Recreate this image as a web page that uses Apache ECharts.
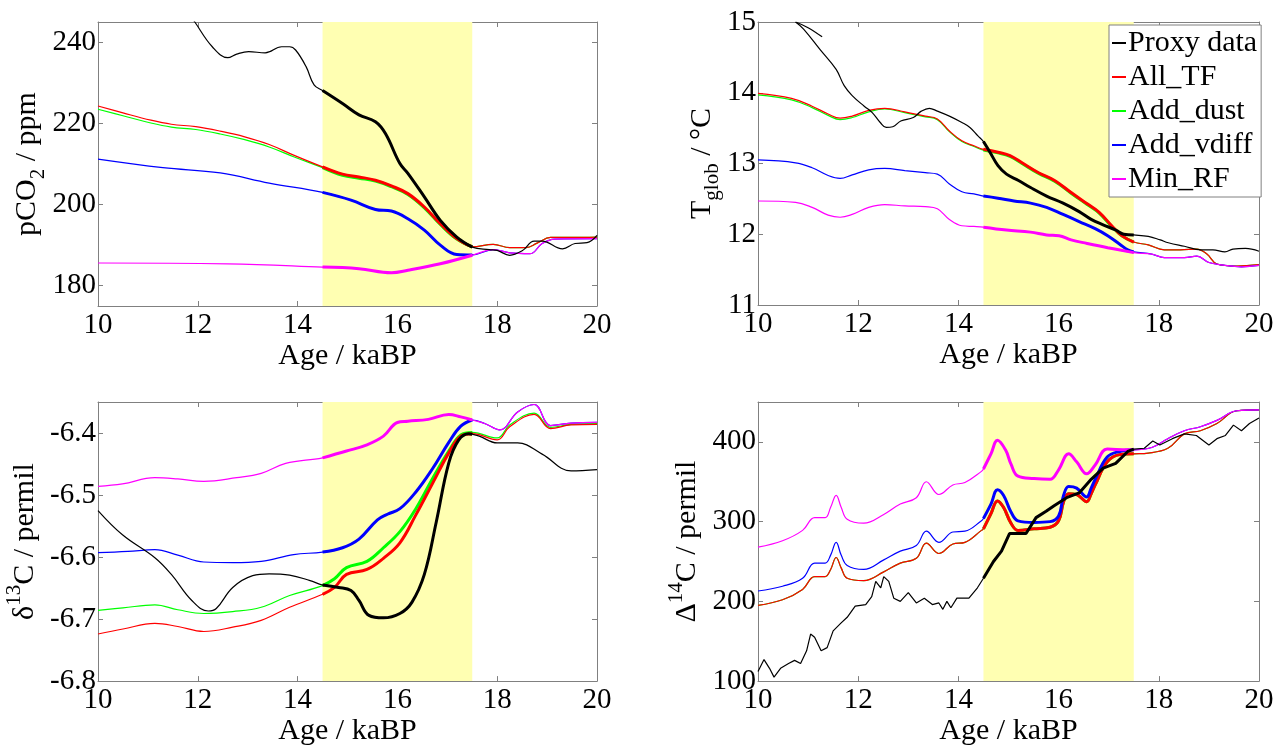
<!DOCTYPE html>
<html>
<head>
<meta charset="utf-8">
<script src="https://cdn.jsdelivr.net/npm/echarts@6/dist/echarts.min.js"></script>
<style>
  html, body { margin: 0; padding: 0; background: #fff; }
  #chart { width: 1277px; height: 747px; }
</style>
</head>
<body>
<div id="chart"></div>
<script>
// ---- data (age in kaBP, value) ----
const seriesNames = ['Proxy data', 'All_TF', 'Add_dust', 'Add_vdiff', 'Min_RF'];
const band = [14.5, 17.5];

// pCO2 / ppm
const co2Proxy = [[11.6,251],[11.94,245],[12.29,238.9],[12.6,236.2],[12.78,237.1],[13.02,237.7],[13.35,237.4],[13.68,238.9],[13.84,238.9],[13.96,238.1],[14.17,234],[14.33,229.5],[14.5,228.1],[14.9,224.9],[15.23,222.1],[15.56,220.4],[15.76,217.5],[16.05,210.1],[16.21,207.7],[16.54,201.9],[16.86,196.1],[17.19,192],[17.5,189.5],[17.84,188.9],[18.0,188.7],[18.25,187.5],[18.5,188.6],[18.74,191],[18.9,191],[19.31,189.1],[19.56,190.4],[19.8,190.6],[20,192.4]];
const co2AllTF = [[10,224.3],[10.5,222.6],[11.06,220.8],[11.47,219.8],[11.96,219.2],[12.45,218.1],[12.94,216.7],[13.43,214.8],[13.92,212.2],[14.5,209.3],[14.9,207.5],[15.23,206.8],[15.56,206],[15.88,204.6],[16.21,202.7],[16.54,199.4],[16.86,195.3],[17.19,191.6],[17.5,189.6],[17.92,190.2],[18.25,189.4],[18.58,189.4],[18.8,190.5],[19.07,191.9],[19.48,191.9],[20,192]];
const co2AddDust = [[10,223.5],[10.5,221.9],[11.06,220.1],[11.47,219.1],[11.96,218.5],[12.45,217.4],[12.94,216.0],[13.43,214.2],[13.92,211.8],[14.5,209.1],[14.9,207.2],[15.23,206.5],[15.56,205.8],[15.88,204.4],[16.21,202.5],[16.54,199.2],[16.86,195.1],[17.19,191.5],[17.5,189.6],[17.92,190.2],[18.25,189.4],[18.58,189.4],[18.8,190.5],[19.07,191.9],[19.48,191.9],[20,192]];
const co2AddVdiff = [[10,211.2],[11.3,209.1],[12.45,207.8],[13.43,205.3],[14.5,203],[15.07,201.1],[15.56,198.8],[15.88,198.4],[16.21,196.5],[16.54,193.7],[16.86,190],[17.19,187.7],[17.5,187.6],[17.92,188.9],[18.25,188.1],[18.66,187.9],[18.9,190.4],[19.15,191.5],[20,191.6]];
const co2MinRF = [[10,185.6],[12.6,185.4],[14.5,184.6],[15.23,184.2],[15.88,183.2],[16.21,183.8],[16.86,185.4],[17.5,187.5],[17.92,188.9],[18.25,188.1],[18.66,187.9],[18.9,190.4],[19.15,191.5],[20,191.6]];

// T_glob / degC
const tempProxy = [[10.75,15.0],[10.91,14.9],[11.24,14.61],[11.56,14.33],[11.72,14.1],[11.88,13.96],[12.12,13.81],[12.28,13.72],[12.44,13.58],[12.56,13.51],[12.69,13.52],[12.85,13.6],[13.1,13.65],[13.26,13.74],[13.42,13.78],[13.58,13.74],[13.82,13.67],[14.07,13.58],[14.23,13.51],[14.39,13.39],[14.5,13.31],[14.63,13.16],[14.79,12.97],[14.96,12.85],[15.2,12.76],[15.44,12.66],[15.76,12.54],[16.09,12.44],[16.41,12.32],[16.65,12.21],[16.9,12.13],[17.14,12.06],[17.3,12.0],[17.5,11.99],[17.79,11.97],[18.03,11.92],[18.19,11.88],[18.51,11.83],[18.84,11.78],[19.08,11.78],[19.32,11.75],[19.48,11.79],[19.73,11.8],[20,11.76]];
const tempProxyEarly = [[10.75,15.0],[11.0,14.92],[11.28,14.79]];
const tempAllTF = [[10,13.99],[10.67,13.92],[11.08,13.81],[11.4,13.7],[11.64,13.64],[11.88,13.67],[12.21,13.75],[12.53,13.78],[12.93,13.73],[13.34,13.67],[13.58,13.63],[13.82,13.46],[14.07,13.32],[14.31,13.25],[14.5,13.2],[14.79,13.16],[15.03,13.11],[15.27,13.01],[15.6,12.87],[15.92,12.76],[16.25,12.59],[16.57,12.43],[16.81,12.31],[17.06,12.12],[17.26,11.98],[17.5,11.89],[17.79,11.85],[18.11,11.78],[18.43,11.78],[18.76,11.79],[18.96,11.72],[19.16,11.58],[19.56,11.55],[20,11.57]];
const tempAddDust = [[10,13.97],[10.67,13.9],[11.08,13.79],[11.4,13.68],[11.64,13.62],[11.88,13.65],[12.21,13.73],[12.53,13.77],[12.93,13.72],[13.34,13.66],[13.58,13.62],[13.82,13.45],[14.07,13.31],[14.31,13.24],[14.5,13.19],[14.79,13.15],[15.03,13.1],[15.27,13.0],[15.6,12.86],[15.92,12.75],[16.25,12.58],[16.57,12.42],[16.81,12.3],[17.06,12.11],[17.26,11.98],[17.5,11.89],[17.79,11.85],[18.11,11.78],[18.43,11.78],[18.76,11.79],[18.96,11.72],[19.16,11.58],[19.56,11.55],[20,11.57]];
const tempAddVdiff = [[10,13.05],[10.75,13.01],[11.08,12.94],[11.4,12.83],[11.64,12.79],[11.88,12.84],[12.21,12.91],[12.53,12.93],[12.93,12.9],[13.34,12.87],[13.58,12.85],[13.82,12.71],[14.07,12.6],[14.31,12.57],[14.5,12.54],[14.79,12.51],[15.11,12.47],[15.44,12.44],[15.76,12.38],[16.09,12.28],[16.41,12.18],[16.73,12.08],[16.98,11.98],[17.22,11.86],[17.38,11.78],[17.5,11.75],[17.86,11.72],[18.11,11.67],[18.51,11.67],[18.76,11.69],[19.0,11.6],[19.32,11.56],[19.65,11.54],[20,11.56]];
const tempMinRF = [[10,12.47],[10.75,12.45],[11.08,12.38],[11.4,12.27],[11.64,12.24],[11.88,12.28],[12.21,12.38],[12.53,12.42],[12.93,12.4],[13.34,12.39],[13.58,12.36],[13.82,12.21],[14.07,12.12],[14.31,12.11],[14.5,12.1],[14.96,12.06],[15.44,12.03],[15.76,11.99],[16.01,11.98],[16.25,11.92],[16.57,11.87],[16.98,11.81],[17.5,11.74],[17.86,11.72],[18.11,11.67],[18.51,11.67],[18.76,11.69],[19.0,11.6],[19.32,11.56],[19.65,11.54],[20,11.56]];

// delta13C / permil
const d13cProxy = [[10,-6.525],[10.49,-6.564],[11.14,-6.601],[11.47,-6.628],[11.88,-6.67],[12.21,-6.687],[12.37,-6.683],[12.7,-6.649],[13.1,-6.63],[13.43,-6.627],[13.84,-6.629],[14.25,-6.638],[14.5,-6.645],[14.82,-6.649],[15.07,-6.654],[15.23,-6.67],[15.43,-6.694],[15.72,-6.698],[16.05,-6.691],[16.29,-6.673],[16.54,-6.628],[16.78,-6.543],[17.03,-6.448],[17.23,-6.411],[17.43,-6.401],[17.5,-6.402],[17.64,-6.405],[18.0,-6.416],[18.41,-6.416],[18.9,-6.434],[19.48,-6.461],[20,-6.459]];
const d13cAllTF = [[10,-6.724],[10.5,-6.716],[11.14,-6.707],[11.6,-6.712],[12.12,-6.72],[12.7,-6.713],[13.27,-6.702],[13.84,-6.681],[14.5,-6.66],[14.74,-6.649],[14.98,-6.628],[15.39,-6.62],[15.72,-6.602],[16.05,-6.577],[16.37,-6.532],[16.7,-6.482],[17.03,-6.432],[17.27,-6.405],[17.5,-6.401],[18.0,-6.411],[18.25,-6.39],[18.74,-6.37],[19.07,-6.393],[19.48,-6.387],[20,-6.386]];
const d13cAddDust = [[10,-6.686],[10.5,-6.682],[11.14,-6.677],[11.6,-6.685],[12.12,-6.691],[12.7,-6.688],[13.27,-6.681],[13.84,-6.662],[14.5,-6.646],[14.74,-6.635],[14.98,-6.617],[15.39,-6.607],[15.72,-6.585],[16.05,-6.559],[16.37,-6.522],[16.7,-6.474],[17.03,-6.429],[17.27,-6.403],[17.5,-6.399],[18.0,-6.408],[18.25,-6.387],[18.74,-6.368],[19.07,-6.391],[19.48,-6.386],[20,-6.385]];
const d13cAddVdiff = [[10,-6.593],[10.6,-6.591],[11.14,-6.588],[11.6,-6.597],[12.12,-6.608],[12.7,-6.609],[13.27,-6.607],[13.92,-6.596],[14.5,-6.592],[14.9,-6.585],[15.23,-6.571],[15.6,-6.54],[15.8,-6.531],[16.05,-6.522],[16.37,-6.495],[16.7,-6.458],[17.03,-6.415],[17.27,-6.389],[17.5,-6.379],[17.76,-6.385],[18.05,-6.395],[18.41,-6.366],[18.74,-6.354],[19.07,-6.388],[19.48,-6.384],[20,-6.383]];
const d13cMinRF = [[10,-6.486],[10.49,-6.482],[11.14,-6.472],[11.6,-6.474],[12.12,-6.478],[12.78,-6.472],[13.27,-6.465],[13.76,-6.449],[14.5,-6.44],[14.98,-6.429],[15.39,-6.419],[15.72,-6.405],[16.0,-6.383],[16.21,-6.381],[16.62,-6.378],[17.03,-6.37],[17.27,-6.374],[17.5,-6.379],[17.76,-6.385],[18.05,-6.395],[18.41,-6.366],[18.74,-6.354],[19.07,-6.388],[19.48,-6.384],[20,-6.383]];

// Delta14C / permil
const d14cProxy = [[10,112],[10.12,127],[10.23,116],[10.32,105],[10.45,116],[10.61,122],[10.73,126],[10.85,122],[10.97,138],[11.05,159],[11.13,155],[11.26,138],[11.38,142],[11.5,163],[11.66,173],[11.78,180],[11.94,194],[12.15,196],[12.27,206],[12.35,225],[12.45,217],[12.51,231],[12.61,225],[12.71,204],[12.84,200],[13.0,211],[13.16,198],[13.32,204],[13.48,196],[13.61,198],[13.69,190],[13.77,200],[13.85,192],[13.97,204],[14.21,204],[14.38,217],[14.5,229],[14.7,250],[14.86,263],[15.02,285],[15.35,285],[15.55,305],[15.75,313],[15.91,320],[16.16,330],[16.41,336],[16.65,353],[16.89,367],[17.14,373],[17.38,388],[17.5,391],[17.71,392],[17.88,401],[18.02,396],[18.27,404],[18.51,410],[18.75,408],[19.0,396],[19.16,404],[19.33,408],[19.49,421],[19.65,414],[19.81,423],[20,430]];
const d14cAllTF = [[10,195],[10.49,202],[10.89,215],[11.13,231],[11.34,231],[11.45,240],[11.56,255],[11.66,242],[11.78,229],[12.11,226],[12.51,237],[12.84,248],[13.16,254],[13.36,273],[13.61,260],[13.89,272],[14.13,274],[14.46,289],[14.5,291],[14.65,310],[14.78,326],[14.9,318],[15.05,298],[15.19,289],[15.51,291],[15.83,293],[16.0,301],[16.1,325],[16.2,335],[16.36,334],[16.56,325],[16.65,335],[16.73,346],[16.97,375],[17.22,384],[17.5,385],[17.79,386],[18.18,392],[18.51,410],[18.83,414],[19.16,423],[19.56,439],[20,440]];
const d14cAddDust = [[10,195],[10.49,202],[10.89,215],[11.13,231],[11.34,231],[11.45,240],[11.56,255],[11.66,242],[11.78,229],[12.11,226],[12.51,237],[12.84,248],[13.16,254],[13.36,273],[13.61,260],[13.89,272],[14.13,274],[14.46,289],[14.5,291],[14.65,310],[14.78,326],[14.9,318],[15.05,298],[15.19,289],[15.51,291],[15.83,293],[16.0,301],[16.1,325],[16.2,335],[16.36,334],[16.56,325],[16.65,335],[16.73,346],[16.97,375],[17.22,384],[17.5,385],[17.79,386],[18.18,392],[18.51,410],[18.83,414],[19.16,423],[19.56,439],[20,440]];
const d14cAddVdiff = [[10,213],[10.49,219],[10.89,229],[11.13,248],[11.34,248],[11.45,258],[11.56,274],[11.66,258],[11.78,245],[12.11,240],[12.51,252],[12.84,263],[13.16,270],[13.36,288],[13.61,274],[13.89,287],[14.13,288],[14.46,301],[14.5,304],[14.65,322],[14.78,340],[14.9,333],[15.05,312],[15.19,301],[15.51,299],[15.83,300],[16.0,307],[16.1,333],[16.2,344],[16.36,342],[16.56,331],[16.65,342],[16.73,353],[16.97,381],[17.22,388],[17.5,390],[17.86,393],[18.18,404],[18.51,414],[18.83,419],[19.16,427],[19.56,439],[20,440]];
const d14cMinRF = [[10,268],[10.49,276],[10.89,289],[11.13,305],[11.34,305],[11.45,318],[11.56,333],[11.66,318],[11.78,303],[12.11,298],[12.51,309],[12.84,322],[13.16,330],[13.36,350],[13.61,334],[13.89,346],[14.13,349],[14.46,363],[14.5,366],[14.65,385],[14.78,402],[14.94,390],[15.05,372],[15.19,357],[15.51,354],[15.83,353],[16.0,365],[16.2,385],[16.36,375],[16.56,360],[16.73,371],[16.97,391],[17.37,390],[17.5,390],[17.86,393],[18.18,404],[18.51,414],[18.83,419],[19.16,427],[19.56,439],[20,440]];

// ---- styling ----
const SERIF = "'Liberation Serif', 'Times New Roman', serif";
const AXIS = '#808080';
const colors = { 'Proxy data': '#000000', 'All_TF': '#ff0000', 'Add_dust': '#00ff00', 'Add_vdiff': '#0000ff', 'Min_RF': '#ff00ff' };

const grids = [
  { left: 98, top: 22, width: 499, height: 284 },
  { left: 758, top: 22, width: 501, height: 283 },
  { left: 98, top: 402, width: 499, height: 283 },
  { left: 758, top: 402, width: 501, height: 283 }
];

const nameRich = {
  n: { fontFamily: SERIF, fontSize: 30, color: '#000', lineHeight: 42 },
  sub: { fontFamily: SERIF, fontSize: 21, color: '#000', lineHeight: 21, verticalAlign: 'bottom' },
  sup: { fontFamily: SERIF, fontSize: 21, color: '#000', lineHeight: 21, verticalAlign: 'top' }
};

const yCfg = [
  { min: 175, max: 245, ticks: [180, 200, 220, 240], name: '{n|pCO}{sub|2}{n| / ppm}', gap: 46 },
  { min: 11, max: 15, ticks: [11, 12, 13, 14, 15], name: '{n|T}{sub|glob}{n| / °C}', gap: 34 },
  { min: -6.8, max: -6.35, ticks: [-6.8, -6.7, -6.6, -6.5, -6.4], name: '{n|δ}{sup|13}{n|C / permil}', gap: 52 },
  { min: 100, max: 450, ticks: [100, 200, 300, 400], name: '{n|Δ}{sup|14}{n|C / permil}', gap: 50 }
];

const tickStyle = { inside: true, length: 5, lineStyle: { color: AXIS } };
const lineAxis = { onZero: false, lineStyle: { color: AXIS, width: 1 } };

const xAxis = [];
const yAxis = [];
grids.forEach((g, i) => {
  xAxis.push({
    gridIndex: i, type: 'value', min: 10, max: 20, interval: 2, position: 'bottom',
    name: 'Age / kaBP', nameLocation: 'middle', nameGap: 32,
    nameTextStyle: { fontFamily: SERIF, fontSize: 30, color: '#000' },
    axisLine: lineAxis, axisTick: tickStyle, splitLine: { show: false },
    axisLabel: { fontFamily: SERIF, fontSize: 29, color: '#000', margin: 5, showMinLabel: true, showMaxLabel: true }
  });
  xAxis.push({
    gridIndex: i, type: 'value', min: 10, max: 20, interval: 2, position: 'top',
    axisLine: lineAxis, axisTick: tickStyle, splitLine: { show: false }, axisLabel: { show: false }
  });
  const c = yCfg[i];
  yAxis.push({
    gridIndex: i, type: 'value', min: c.min, max: c.max, position: 'left',
    name: c.name, nameLocation: 'middle', nameRotate: 90, nameGap: c.gap,
    nameTextStyle: { rich: nameRich },
    axisLine: lineAxis, splitLine: { show: false },
    axisTick: Object.assign({ customValues: c.ticks }, tickStyle),
    axisLabel: { customValues: c.ticks, fontFamily: SERIF, fontSize: 29, color: '#000', margin: 2,
      formatter: v => (i === 2 ? v.toFixed(1) : String(v)) }
  });
  yAxis.push({
    gridIndex: i, type: 'value', min: c.min, max: c.max, position: 'right',
    axisLine: lineAxis, splitLine: { show: false },
    axisTick: Object.assign({ customValues: c.ticks }, tickStyle),
    axisLabel: { show: false }
  });
});

function bandPart(data) {
  return data.filter(p => p[0] >= band[0] && p[0] <= band[1]);
}

function panelSeries(idx, sets) {
  const out = [{
    type: 'line', xAxisIndex: idx * 2, yAxisIndex: idx * 2, data: [], silent: true, z: 1,
    markArea: { silent: true, itemStyle: { color: '#ffffb2', opacity: 1 }, data: [[{ xAxis: band[0] }, { xAxis: band[1] }]] }
  }];
  sets.forEach(s => {
    const base = {
      type: 'line', name: s.name, xAxisIndex: idx * 2, yAxisIndex: idx * 2,
      showSymbol: false, symbol: 'none', silent: true,
      smooth: s.rough ? false : 0.4,
      itemStyle: { color: colors[s.name] }
    };
    out.push(Object.assign({}, base, { data: s.data, lineStyle: { width: 1.2, color: colors[s.name] } }));
    if (!s.thin) {
      out.push(Object.assign({}, base, { data: bandPart(s.data), lineStyle: { width: 3, color: colors[s.name] } }));
    }
  });
  return out;
}

const series = [].concat(
  panelSeries(0, [
    { name: 'Add_dust', data: co2AddDust }, { name: 'All_TF', data: co2AllTF },
    { name: 'Add_vdiff', data: co2AddVdiff }, { name: 'Min_RF', data: co2MinRF },
    { name: 'Proxy data', data: co2Proxy }
  ]),
  panelSeries(1, [
    { name: 'Add_dust', data: tempAddDust }, { name: 'All_TF', data: tempAllTF },
    { name: 'Add_vdiff', data: tempAddVdiff }, { name: 'Min_RF', data: tempMinRF },
    { name: 'Proxy data', data: tempProxy }, { name: 'Proxy data', data: tempProxyEarly, thin: true }
  ]),
  panelSeries(2, [
    { name: 'Add_dust', data: d13cAddDust }, { name: 'All_TF', data: d13cAllTF },
    { name: 'Add_vdiff', data: d13cAddVdiff }, { name: 'Min_RF', data: d13cMinRF },
    { name: 'Proxy data', data: d13cProxy }
  ]),
  panelSeries(3, [
    { name: 'Add_dust', data: d14cAddDust }, { name: 'All_TF', data: d14cAllTF },
    { name: 'Add_vdiff', data: d14cAddVdiff }, { name: 'Min_RF', data: d14cMinRF },
    { name: 'Proxy data', data: d14cProxy, rough: true }
  ])
);

const chart = echarts.init(document.getElementById('chart'));
chart.setOption({
  animation: false,
  backgroundColor: '#fff',
  textStyle: { fontFamily: SERIF },
  grid: grids,
  xAxis: xAxis,
  yAxis: yAxis,
  legend: {
    data: seriesNames,
    orient: 'vertical', left: 1109, top: 25,
    icon: 'rect', itemWidth: 14, itemHeight: 2, itemGap: 4,
    selectedMode: false,
    backgroundColor: '#fff', borderColor: AXIS, borderWidth: 1, borderRadius: 0,
    padding: [3, 4, 3, 3],
    textStyle: { fontFamily: SERIF, fontSize: 30, color: '#000', padding: [0, 0, 0, -3] }
  },
  series: series
});
</script>
</body>
</html>
